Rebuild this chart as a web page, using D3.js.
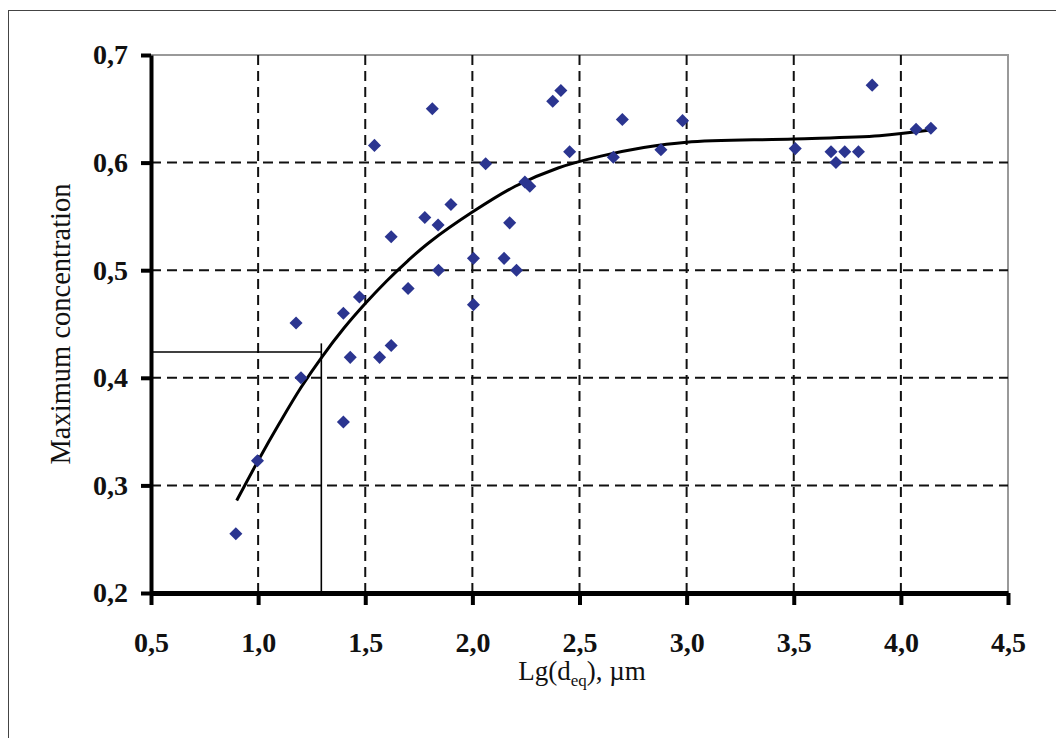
<!DOCTYPE html>
<html lang="en">
	<head>
		<meta charset="utf-8">
		<title>Maximum concentration vs Lg(deq)</title>
		<script type="text/javascript" src="https://cdn.jsdelivr.net/npm/d3@7"></script>
		<style>
			body { margin: 0; background: #fff; }
			text { font-family: "Liberation Serif", "Times New Roman", serif; }
			.axis text { font-size: 28px; font-weight: bold; fill: #111; }
			.axis path, .axis line { stroke: #000; }
		</style>
	</head>
	<body>
		<script type="text/javascript">

			var w = 1056;
			var h = 738;

			// tick values
			var xTicks = [0.5, 1.0, 1.5, 2.0, 2.5, 3.0, 3.5, 4.0, 4.5];
			var yTicks = [0.2, 0.3, 0.4, 0.5, 0.6, 0.7];

			var pointX = [0.896, 0.997, 1.177, 1.200, 1.398, 1.398, 1.430, 1.473, 1.543, 1.567,
				1.621, 1.621, 1.700, 1.778, 1.813, 1.840, 1.842, 1.900, 2.005, 2.005,
				2.062, 2.148, 2.174, 2.206, 2.245, 2.268, 2.375, 2.413, 2.454, 2.658,
				2.700, 2.880, 2.981, 3.507, 3.674, 3.697, 3.738, 3.802, 3.866, 4.071, 4.140];
			var pointY = [0.255, 0.323, 0.451, 0.400, 0.460, 0.359, 0.419, 0.475, 0.616, 0.419,
				0.430, 0.531, 0.483, 0.549, 0.650, 0.542, 0.500, 0.561, 0.511, 0.468,
				0.599, 0.511, 0.544, 0.500, 0.582, 0.578, 0.657, 0.667, 0.610, 0.605,
				0.640, 0.612, 0.639, 0.613, 0.610, 0.600, 0.610, 0.610, 0.672, 0.631, 0.632];

			// fitted trend curve
			var fitX = [0.90, 1.00, 1.10, 1.20, 1.30, 1.40, 1.50, 1.60, 1.70, 1.80, 2.00, 2.20,
				2.40, 2.60, 2.80, 3.00, 3.50, 3.90, 4.13];
			var fitY = [0.286, 0.323, 0.358, 0.391, 0.420, 0.446, 0.469, 0.490, 0.509, 0.526, 0.554, 0.578,
				0.595, 0.606, 0.614, 0.619, 0.622, 0.625, 0.630];

			// guide lines
			var guideX = 1.295;
			var guideY = 0.424;
			var guideTop = 0.432;

			var fmt = function(d) { return d3.format(".1f")(d).replace(".", ","); };

			var svg = d3.select("body")
				.append("svg")
				.attr("width", w)
				.attr("height", h);

			// outer frame (only top and left edges visible)
			svg.append("rect")
				.attr("x", 8.5).attr("y", 10.5)
				.attr("width", 1100).attr("height", 800)
				.attr("fill", "none")
				.attr("stroke", "#444")
				.attr("stroke-width", 1);

			var plotLeft = 151, plotRight = 1008, plotTop = 55, plotBottom = 593;

			var xScale = d3.scaleLinear().domain([0.5, 4.5]).range([plotLeft, plotRight]);
			var yScale = d3.scaleLinear().domain([0.2, 0.7]).range([plotBottom, plotTop]);

			// plot area border (grey, top and right)
			svg.append("path")
				.attr("d", "M" + plotLeft + "," + plotTop + "H" + plotRight + "V" + plotBottom)
				.attr("fill", "none")
				.attr("stroke", "#999")
				.attr("stroke-width", 2);

			// dashed grid
			var grid = svg.append("g")
				.attr("stroke", "#111")
				.attr("stroke-width", 2)
				.attr("stroke-dasharray", "10,6");

			grid.selectAll("line.v")
				.data(xTicks.slice(1, -1))
				.enter()
				.append("line")
				.attr("class", "v")
				.attr("x1", function(d) { return xScale(d); })
				.attr("x2", function(d) { return xScale(d); })
				.attr("y1", plotTop)
				.attr("y2", plotBottom);

			grid.selectAll("line.h")
				.data(yTicks.slice(1, -1))
				.enter()
				.append("line")
				.attr("class", "h")
				.attr("x1", plotLeft)
				.attr("x2", plotRight)
				.attr("y1", function(d) { return yScale(d); })
				.attr("y2", function(d) { return yScale(d); });

			// guide lines at x = 1.3
			svg.append("line")
				.attr("x1", xScale(0.5)).attr("x2", xScale(guideX))
				.attr("y1", yScale(guideY)).attr("y2", yScale(guideY))
				.attr("stroke", "#000").attr("stroke-width", 1.6);
			svg.append("line")
				.attr("x1", xScale(guideX)).attr("x2", xScale(guideX))
				.attr("y1", yScale(guideTop)).attr("y2", yScale(0.2))
				.attr("stroke", "#000").attr("stroke-width", 1.6);

			// trend curve
			var fit = fitX.map(function(d, i) { return [d, fitY[i]]; });
			var line = d3.line()
				.curve(d3.curveCatmullRom.alpha(0.5))
				.x(function(d) { return xScale(d[0]); })
				.y(function(d) { return yScale(d[1]); });

			svg.append("path")
				.datum(fit)
				.attr("d", line)
				.attr("fill", "none")
				.attr("stroke", "#000")
				.attr("stroke-width", 3);

			// diamond markers
			var pts = pointX.map(function(d, i) { return { x: d, y: pointY[i] }; });
			svg.append("g")
				.selectAll("path")
				.data(pts)
				.enter()
				.append("path")
				.attr("d", d3.symbol().type(d3.symbolSquare).size(85))
				.attr("transform", function(d) {
					return "translate(" + xScale(d.x) + "," + yScale(d.y) + ") rotate(45)";
				})
				.attr("fill", "#2b3590");

			// axes
			var xAxis = d3.axisBottom(xScale)
				.tickValues(xTicks)
				.tickFormat(fmt)
				.tickSizeInner(12)
				.tickSizeOuter(0)
				.tickPadding(27);

			var gx = svg.append("g")
				.attr("class", "axis")
				.attr("transform", "translate(0," + plotBottom + ")")
				.call(xAxis);
			gx.select(".domain").attr("stroke-width", 5);
			gx.selectAll(".tick line").attr("stroke-width", 4);

			var yAxis = d3.axisLeft(yScale)
				.tickValues(yTicks)
				.tickFormat(fmt)
				.tickSizeInner(10)
				.tickSizeOuter(0)
				.tickPadding(13);

			var gy = svg.append("g")
				.attr("class", "axis")
				.attr("transform", "translate(" + plotLeft + ",0)")
				.call(yAxis);
			gy.select(".domain").attr("stroke-width", 4);
			gy.selectAll(".tick line").attr("stroke-width", 4);

			// axis titles
			svg.append("text")
				.attr("transform", "translate(70,324) rotate(-90)")
				.attr("text-anchor", "middle")
				.attr("font-size", 28.5)
				.attr("fill", "#111")
				.text("Maximum concentration");

			var xt = svg.append("text")
				.attr("x", 582)
				.attr("y", 680)
				.attr("text-anchor", "middle")
				.attr("font-size", 27)
				.attr("fill", "#111");
			xt.append("tspan").text("Lg(d");
			xt.append("tspan").attr("font-size", 17).attr("dy", 6).text("eq");
			xt.append("tspan").attr("dy", -6).text("), µm");

		</script>
	</body>
</html>
